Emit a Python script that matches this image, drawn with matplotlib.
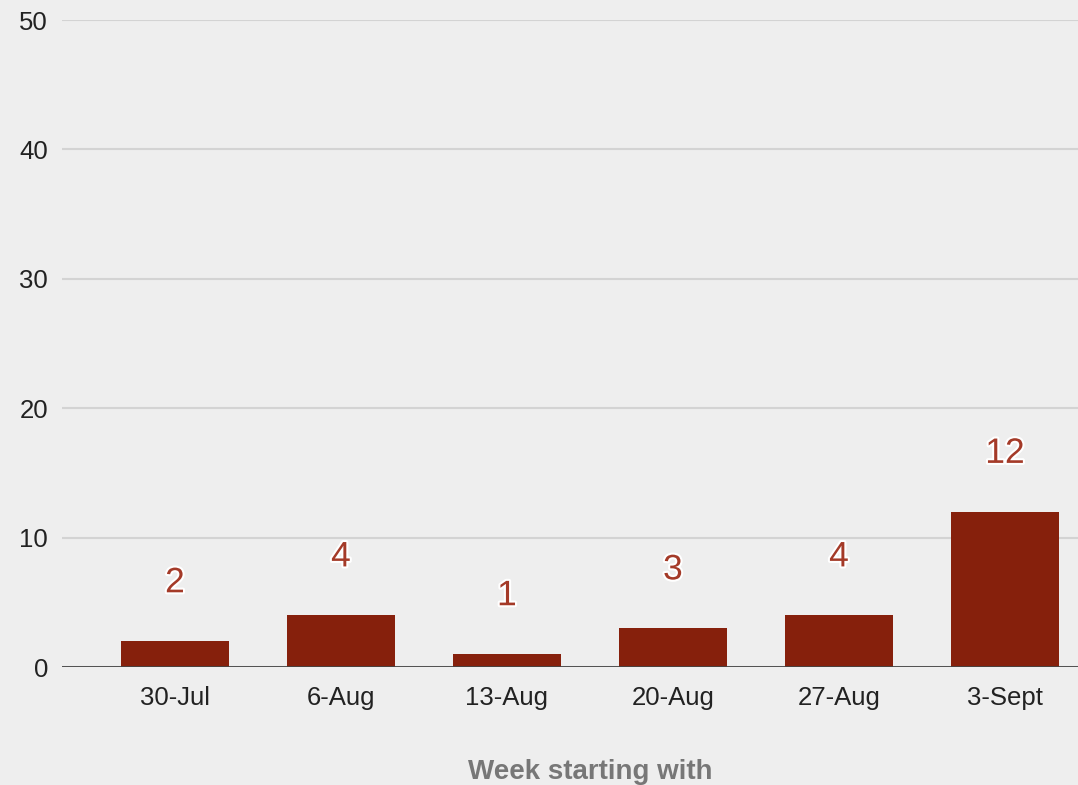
import matplotlib.pyplot as plt
import matplotlib.patheffects as pe

weeks = ['30-Jul', '6-Aug', '13-Aug', '20-Aug', '27-Aug', '3-Sept']
counts = [2, 4, 1, 3, 4, 12]
y_ticks = [0, 10, 20, 30, 40, 50]

bg_color = '#eeeeee'
bar_color = '#86200c'
label_color = '#a43a28'

plt.rcParams['font.family'] = ['Liberation Sans', 'DejaVu Sans']

fig = plt.figure(figsize=(10.78, 7.85), dpi=100)
fig.patch.set_facecolor(bg_color)
ax = fig.add_axes([0.0575, 0.1503, 0.9425, 0.8242])
ax.set_facecolor(bg_color)

x = list(range(len(weeks)))
ax.bar(x, counts, width=0.65, color=bar_color, zorder=3)

# value labels above bars, white halo
for xi, v in zip(x, counts):
    ax.annotate(str(v), xy=(xi, v), xytext=(0, 42), textcoords='offset points',
                ha='center', va='center', fontsize=25.5, color=label_color,
                path_effects=[pe.withStroke(linewidth=3, foreground='white')], zorder=4)

ax.set_xlim(-0.68, 5.44)
ax.set_ylim(0, 50)
ax.set_yticks(y_ticks)
ax.set_xticks(x)
ax.set_xticklabels(weeks)

ax.grid(axis='y', color='#d3d3d3', linewidth=1.5, zorder=0)
ax.axhline(0, color='#444444', linewidth=2, zorder=5)
for s in ax.spines.values():
    s.set_visible(False)
ax.tick_params(axis='both', length=0, labelsize=18.5, colors='#222222')
ax.tick_params(axis='y', pad=10)
ax.tick_params(axis='x', pad=14)

fig.text(590 / 1078, 1 - 772 / 785, 'Week starting with', ha='center', va='center',
         fontsize=20, fontweight='bold', color='#777777')

fig.savefig('out.png', dpi=100, facecolor=bg_color)
